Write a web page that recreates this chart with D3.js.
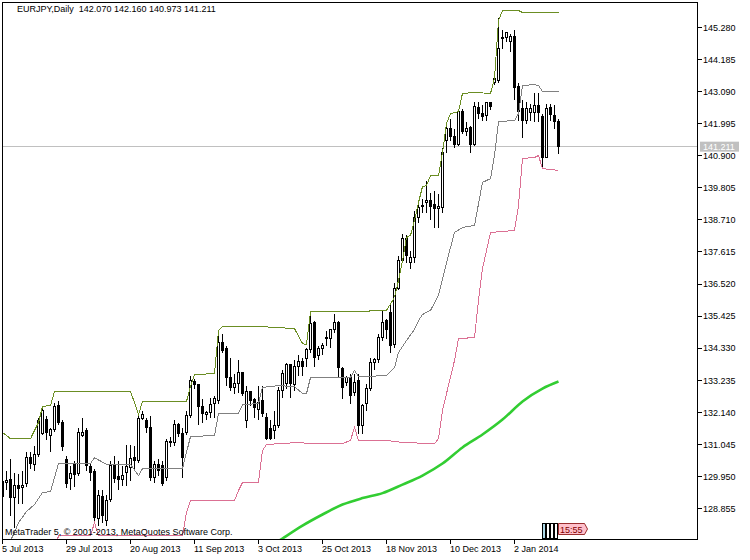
<!DOCTYPE html>
<html><head><meta charset="utf-8">
<script src="https://cdn.jsdelivr.net/npm/d3@7"></script>
<style>
body{margin:0;background:#fff}
svg text{font-family:"Liberation Sans",Arial,sans-serif;font-size:9px}
</style>
</head><body>
<svg id="chart" width="750" height="560"></svg>
<script>
// ---------- data ----------
const symbol = "EURJPY,Daily";
const lastOHLC = [142.070, 142.160, 140.973, 141.211];
const copyright = "MetaTrader 5, \u00A9 2001-2013, MetaQuotes Software Corp.";
const timeLeft = "15:55";

const dateTickIndex = [0, 16, 32, 48, 64, 80, 96, 112, 128];
const dateLabels = ["5 Jul 2013","29 Jul 2013","20 Aug 2013","11 Sep 2013","3 Oct 2013","25 Oct 2013","18 Nov 2013","10 Dec 2013","2 Jan 2014"];
const priceTicks = [145.280,144.185,143.090,141.995,140.900,139.805,138.710,137.615,136.520,135.425,134.330,133.235,132.140,131.045,129.950,128.855];

const opens = [129.77,129.74,129.84,129.23,129.64,129.57,129.71,130.59,130.36,130.70,
131.41,131.89,131.35,131.55,132.37,131.79,130.53,129.88,130.36,130.05,
131.35,131.52,130.29,130.12,128.51,129.26,128.44,129.16,130.32,129.95,
129.84,130.08,130.25,130.59,130.49,131.93,131.86,131.62,129.91,130.36,
130.32,129.91,131.11,131.11,131.72,131.41,131.45,132.03,133.19,133.09,
132.34,132.06,132.13,132.44,132.54,134.52,134.32,133.33,132.99,133.12,
133.50,131.86,132.85,132.58,132.23,132.54,131.96,131.59,131.52,131.69,
132.88,133.12,133.77,133.09,133.70,133.87,133.98,134.28,135.21,134.08,
134.32,134.66,134.66,134.97,135.21,133.63,133.16,133.33,132.81,133.22,
131.69,132.44,132.95,133.84,133.94,134.69,135.27,135.55,134.45,136.37,
137.32,138.07,137.25,137.42,138.79,139.17,139.30,139.37,139.23,139.10,
139.13,141.42,141.83,141.56,141.28,142.41,141.73,141.86,141.28,142.55,
142.34,142.27,142.72,143.40,143.47,144.94,144.94,144.80,144.97,143.26,
142.51,142.10,142.38,142.38,142.62,142.24,140.84,142.55,142.27,142.070];
const highs = [129.95,130.15,130.56,130.08,130.05,130.15,130.77,130.77,131.00,131.96,
132.37,132.03,131.62,132.47,132.54,131.86,130.66,130.32,130.49,131.59,
131.96,131.62,130.42,130.22,129.47,129.47,129.30,130.49,130.66,130.49,
130.32,131.04,131.04,131.00,132.03,132.20,131.93,132.03,130.49,130.56,
130.49,131.24,131.28,131.86,131.79,131.59,132.20,133.39,133.29,133.12,
132.61,132.20,132.64,132.71,134.90,134.83,134.39,133.98,133.46,133.94,
133.53,133.05,132.88,132.64,133.05,133.05,132.10,131.86,132.20,132.99,
133.57,133.84,133.80,133.91,134.08,134.01,134.35,135.44,135.27,134.42,
134.52,134.93,135.00,135.48,135.27,133.67,133.39,133.46,133.46,133.46,
132.44,133.12,134.01,134.01,134.80,135.62,135.34,135.85,136.54,137.49,
138.24,138.18,137.66,139.03,139.27,139.44,140.05,139.64,139.71,139.61,
141.15,142.00,142.17,141.83,142.48,142.51,142.04,141.93,142.72,142.72,
142.62,142.75,142.75,143.57,145.59,145.18,145.14,145.07,145.18,143.37,
142.79,142.72,142.68,143.06,143.06,142.34,142.68,142.68,142.62,142.160];
const lows = [129.13,129.47,128.61,128.20,129.02,129.02,129.60,130.22,130.15,130.63,
131.35,131.18,130.77,131.48,131.69,130.83,129.57,129.47,129.60,129.95,
131.28,130.15,129.81,128.34,128.27,128.37,128.27,129.06,129.71,129.47,
129.64,129.64,129.81,130.15,130.42,131.86,131.45,129.81,129.71,129.98,
129.64,129.81,130.94,131.00,131.28,129.91,131.35,131.93,132.95,131.69,
131.76,131.89,131.93,131.93,132.44,134.18,133.05,132.88,132.78,132.81,
132.71,131.59,132.37,131.93,131.86,131.99,131.18,131.18,131.24,131.59,
132.64,132.95,132.64,132.88,133.39,133.39,133.67,134.18,133.67,133.91,
134.08,134.42,134.35,134.86,133.33,132.61,133.05,132.44,132.68,131.41,
131.41,132.20,132.88,133.57,133.84,134.59,134.66,134.15,134.32,136.30,
137.25,137.25,137.05,137.25,138.62,138.96,138.96,138.69,138.45,138.45,
138.96,141.01,141.42,141.18,141.25,141.63,141.59,141.01,141.25,142.17,
142.10,142.10,142.45,143.30,143.40,144.56,144.77,144.43,142.82,142.10,
141.52,142.00,142.10,142.04,142.04,140.50,140.81,142.10,141.83,140.973];
const closes = [129.26,129.81,129.23,129.64,129.54,129.64,130.59,130.39,130.70,131.86,
132.20,131.45,131.55,132.34,131.79,130.97,129.71,130.05,130.01,131.45,
131.45,130.32,130.08,128.55,129.30,128.61,129.13,130.32,129.88,129.84,
129.98,130.29,130.56,130.49,131.93,132.06,131.62,129.91,130.36,130.15,
129.71,131.14,131.14,131.72,131.41,130.59,132.03,133.22,133.09,132.34,
132.10,132.13,132.40,132.61,134.52,134.25,133.33,132.99,133.12,133.50,
132.78,132.85,132.54,132.30,132.47,132.10,131.24,131.24,131.69,132.88,
133.46,133.77,133.12,133.70,133.87,133.70,134.28,135.17,134.01,134.32,
134.42,134.69,134.97,135.21,133.67,132.99,133.33,132.71,133.16,131.69,
132.37,132.95,133.84,133.94,134.69,135.21,134.97,134.42,136.37,137.32,
138.07,137.49,137.42,138.79,139.13,139.20,139.37,139.17,139.10,139.17,
141.01,141.83,141.56,141.28,142.41,141.73,141.83,141.28,142.58,142.34,
142.24,142.72,142.58,143.54,144.56,144.90,145.11,144.97,143.23,142.41,
142.10,142.51,142.51,142.62,142.38,140.84,142.51,142.31,142.07,141.211];

// channel lines: [bar index, price] vertices
const upperBand = [[0,131.45],[2,131.24],[7,131.24],[9,131.79],[10,132.34],[12,132.37],[13,132.85],[32,132.85],[33,132.47],[34,132.06],[35,132.51],[46,132.51],[47,133.02],[48,133.43],[53,133.46],[54,134.93],[55,135.07],[64,135.07],[73,135.00],[75,134.49],[76,134.45],[77,135.58],[88,135.58],[96,135.62],[98,136.06],[99,136.64],[100,137.32],[101,138.11],[102,138.18],[103,138.69],[104,139.30],[105,139.85],[106,139.88],[107,140.22],[109,140.22],[110,141.01],[111,142.00],[112,142.34],[114,142.41],[115,143.03],[118,143.06],[122,143.03],[123,143.54],[124,145.52],[125,145.86],[129,145.86],[130,145.79],[139,145.79]];
const middleBand = [[2,127.76],[3,128.03],[4,128.37],[6,128.75],[8,128.99],[10,129.40],[12,129.43],[14,130.39],[22,130.39],[23,130.59],[26,130.36],[32,130.36],[34,129.98],[35,130.22],[45,130.22],[46,130.77],[47,131.31],[53,131.35],[54,132.10],[59,132.10],[60,132.40],[64,132.44],[65,132.99],[69,133.05],[73,133.02],[75,132.78],[76,132.78],[77,133.33],[87,133.33],[88,133.57],[89,133.36],[96,133.39],[98,133.67],[99,134.18],[101,134.59],[103,134.97],[104,135.27],[105,135.48],[107,135.62],[109,136.13],[111,137.25],[113,138.28],[115,138.45],[118,138.52],[120,139.99],[122,140.12],[123,140.91],[124,142.07],[128,142.10],[129,142.34],[130,143.30],[133,143.33],[134,143.30],[135,143.09],[139,143.09]];
const lowerBand = [[13,127.40],[14,127.93],[22,127.93],[23,128.37],[24,127.93],[45,127.93],[46,128.72],[47,129.13],[58,129.13],[59,129.47],[60,129.74],[64,129.74],[65,130.83],[66,131.04],[74,131.11],[77,131.07],[85,131.07],[87,131.18],[88,131.62],[89,131.18],[96,131.18],[100,131.11],[108,131.07],[109,131.24],[110,132.20],[111,132.78],[113,133.91],[114,134.66],[118,134.69],[119,135.96],[120,137.05],[121,137.66],[122,138.28],[128,138.35],[129,139.20],[130,140.81],[133,140.84],[134,140.91],[135,140.46],[139,140.40]];
const movingAverage = [[69,127.74],[70,127.83],[75,128.27],[80,128.65],[85,128.99],[90,129.21],[95,129.38],[100,129.67],[105,129.98],[110,130.39],[115,130.94],[120,131.38],[125,131.89],[130,132.51],[135,132.95],[139,133.19]];

// ---------- drawing ----------
const svg = d3.select("#chart");
const plot = {left:2, top:2, right:697, bottom:539};

const x = d3.scaleLinear().domain([0, 139]).range([2.5, 558.5]);
const y = d3.scaleLinear().domain([128.855, 145.28]).range([508.5, 27.5]);

svg.append("defs").append("clipPath").attr("id","clip")
  .append("rect").attr("x",plot.left+0.5).attr("y",plot.top+0.5)
  .attr("width",plot.right-plot.left).attr("height",plot.bottom-plot.top);

const gPlot = svg.append("g").attr("clip-path","url(#clip)");

// bid line
gPlot.append("line")
  .attr("x1",plot.left).attr("x2",plot.right)
  .attr("y1",y(lastOHLC[3])).attr("y2",y(lastOHLC[3]))
  .attr("stroke","#c0c0c0").attr("shape-rendering","crispEdges");

const bars = opens.map((o,i)=>({i, o, h:highs[i], l:lows[i], c:closes[i]}));
const gC = gPlot.append("g").attr("shape-rendering","crispEdges");
gC.selectAll("line.wick").data(bars).join("line").attr("class","wick")
  .attr("x1",d=>x(d.i)).attr("x2",d=>x(d.i))
  .attr("y1",d=>y(d.h)).attr("y2",d=>y(d.l))
  .attr("stroke","#000");
gC.selectAll("rect.body").data(bars).join("rect").attr("class","body")
  .attr("x",d=>x(d.i)-1).attr("width",2)
  .attr("y",d=>y(Math.max(d.o,d.c)))
  .attr("height",d=>Math.max(0.6, Math.abs(y(d.o)-y(d.c))))
  .attr("fill",d=>d.c>=d.o?"#fff":"#000")
  .attr("stroke","#000");

const line = d3.line().x(d=>x(d[0])).y(d=>y(d[1]));
const smooth = d3.line().x(d=>x(d[0])).y(d=>y(d[1])).curve(d3.curveMonotoneX);
gPlot.append("path").datum(lowerBand).attr("d",line).attr("fill","none")
  .attr("stroke","#db7093").attr("stroke-width",1).attr("shape-rendering","crispEdges");
gPlot.append("path").datum(middleBand).attr("d",line).attr("fill","none")
  .attr("stroke","#808080").attr("stroke-width",1).attr("shape-rendering","crispEdges");
gPlot.append("path").datum(upperBand).attr("d",line).attr("fill","none")
  .attr("stroke","#6b8e23").attr("stroke-width",1).attr("shape-rendering","crispEdges");
gPlot.append("path").datum(movingAverage).attr("d",smooth).attr("fill","none")
  .attr("stroke","#32cd32").attr("stroke-width",2.6);

// frame
svg.append("rect").attr("x",plot.left+0.5).attr("y",plot.top+0.5)
  .attr("width",plot.right-plot.left).attr("height",plot.bottom-plot.top)
  .attr("fill","none").attr("stroke","#000").attr("shape-rendering","crispEdges");

// right price axis
const yAxis = d3.axisRight(y).tickValues(priceTicks).tickFormat(d3.format(".3f"))
  .tickSize(4).tickPadding(1.5).offset(0);
const gy = svg.append("g").attr("transform",`translate(${plot.right+0.5},0)`).call(yAxis);
gy.select(".domain").remove();
gy.attr("font-size",null).attr("font-family",null);
gy.selectAll(".tick line").attr("stroke","#000").attr("shape-rendering","crispEdges");
gy.selectAll(".tick text").attr("fill","#000").attr("dy","3.3");

// current price label
const gp = svg.append("g");
gp.append("rect").attr("x",700).attr("y",y(lastOHLC[3])-5).attr("width",39).attr("height",10)
  .attr("fill","#c0c0c0");
gp.append("text").attr("x",703).attr("y",y(lastOHLC[3])+3.3).attr("fill","#fff")
  .text(d3.format(".3f")(lastOHLC[3]));

// bottom time axis
const xAxis = d3.axisBottom(x).tickValues(dateTickIndex)
  .tickFormat((d,k)=>dateLabels[k]).tickSize(4).offset(0);
const gx = svg.append("g").attr("transform",`translate(0,${plot.bottom+0.5})`).call(xAxis);
gx.select(".domain").remove();
gx.attr("font-size",null).attr("font-family",null);
gx.selectAll(".tick line").attr("stroke","#000").attr("shape-rendering","crispEdges");
gx.selectAll(".tick text").attr("fill","#000").attr("text-anchor","start")
  .attr("x",-0.5).attr("y",12.5).attr("dy",0);

// title
svg.append("text").attr("x",17).attr("y",12).style("white-space","pre")
  .text(symbol + "  " + lastOHLC.map(d3.format(".3f")).join(" "));

// copyright
svg.append("text").attr("x",5).attr("y",534.5).text(copyright);

// time-left markers
const gm = svg.append("g").attr("shape-rendering","crispEdges");
[542,546,550,554].forEach((px,k)=>{
  gm.append("rect").attr("x",px+0.5).attr("y",523.5).attr("width",3).attr("height",15)
    .attr("fill",k===0?"#add8e6":"#fff").attr("stroke","#000");
});
svg.append("path").attr("d","M558.5,523.5H584.5L587.5,529L584.5,534.5H558.5Z")
  .attr("fill","#ffc0cb").attr("stroke","#800000").attr("stroke-width",0.8);
svg.append("text").attr("x",560).attr("y",532.5).attr("fill","#800000").text(timeLeft);
</script>
</body></html>
